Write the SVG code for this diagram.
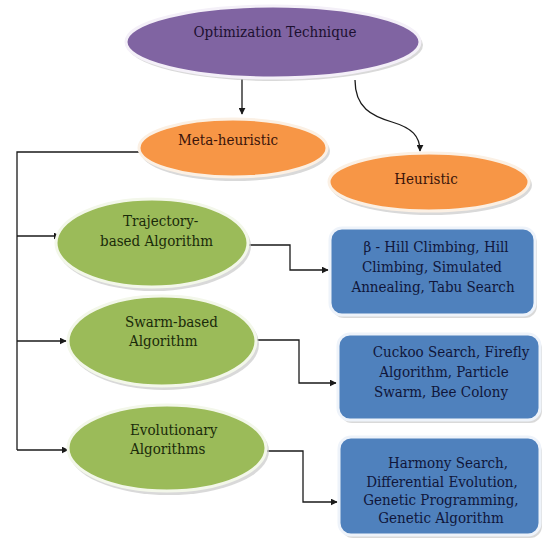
<svg xmlns="http://www.w3.org/2000/svg" width="544" height="539" viewBox="0 0 544 539">
<style>
text{font-family:"DejaVu Serif Condensed","DejaVu Serif","Liberation Serif",serif;font-size:15px}
.sh{fill:#c9c9c9;opacity:0.7}
.pu{fill:#8064A2;stroke:#f4f0f8;stroke-width:3}
.or{fill:#F79646;stroke:#fbf0e4;stroke-width:3}
.gr{fill:#9BBB59;stroke:#f3f7ea;stroke-width:3}
.bl{fill:#4F81BD;stroke:#eef3fa;stroke-width:3}
.c{fill:none;stroke:#1a1a1a;stroke-width:1.3}
</style>
<defs>
<marker id="ah" viewBox="0 0 10 10" refX="9" refY="5" markerWidth="7" markerHeight="7" orient="auto" markerUnits="userSpaceOnUse">
<path d="M0,0 L10,5 L0,10 z" fill="#1a1a1a"/>
</marker>
</defs>
<rect width="544" height="539" fill="#ffffff"/>

<g id="connectors">
<path class="c" d="M242,79 V114" marker-end="url(#ah)"/>
<path class="c" d="M355,80 C355,108 372,116 392,122 C412,128 420,136 420,151" marker-end="url(#ah)"/>
<path class="c" d="M139,152 H17 V450"/>
<path class="c" d="M17,236 H60" marker-end="url(#ah)"/>
<path class="c" d="M17,341 H66" marker-end="url(#ah)"/>
<path class="c" d="M17,450 H68" marker-end="url(#ah)"/>
<path class="c" d="M249,245 H290 V270 H328" marker-end="url(#ah)"/>
<path class="c" d="M256,340 H299 V383 H336" marker-end="url(#ah)"/>
<path class="c" d="M266,451 H303 V502 H337" marker-end="url(#ah)"/>
</g>

<g id="optimization-technique">
<ellipse class="sh" cx="275" cy="45" rx="148" ry="36"/>
<ellipse class="pu" cx="273" cy="42" rx="147" ry="36"/>
<text x="275" y="37" text-anchor="middle" fill="#1c1030">Optimization Technique</text>
</g>

<g id="meta-heuristic">
<ellipse class="sh" cx="235" cy="151" rx="95" ry="30"/>
<ellipse class="or" cx="233" cy="148" rx="94" ry="29"/>
<text x="228" y="145" text-anchor="middle" fill="#3a140a">Meta-heuristic</text>
</g>

<g id="heuristic">
<ellipse class="sh" cx="431" cy="185" rx="101" ry="30"/>
<ellipse class="or" cx="429" cy="182" rx="100" ry="29"/>
<text x="426" y="184" text-anchor="middle" fill="#3a140a">Heuristic</text>
</g>

<g id="trajectory-based">
<ellipse class="sh" cx="154" cy="246" rx="97" ry="45"/>
<ellipse class="gr" cx="152" cy="243" rx="96" ry="44"/>
<text x="123" y="226" fill="#1a2a0a">Trajectory-</text>
<text x="100" y="246" fill="#1a2a0a">based Algorithm</text>
</g>

<g id="swarm-based">
<ellipse class="sh" cx="164" cy="344" rx="95" ry="46"/>
<ellipse class="gr" cx="162" cy="341" rx="94" ry="45"/>
<text x="125" y="327" fill="#1a2a0a">Swarm-based</text>
<text x="129" y="346" fill="#1a2a0a">Algorithm</text>
</g>

<g id="evolutionary">
<ellipse class="sh" cx="169" cy="451" rx="100" ry="44"/>
<ellipse class="gr" cx="167" cy="448" rx="99" ry="43"/>
<text x="130" y="435" fill="#1a2a0a">Evolutionary</text>
<text x="130" y="454" fill="#1a2a0a">Algorithms</text>
</g>

<g id="trajectory-examples">
<rect class="sh" x="332" y="231" width="205" height="87" rx="12"/>
<rect class="bl" x="330" y="228" width="205" height="87" rx="12"/>
<text x="436" y="252" text-anchor="middle" fill="#10163a">β - Hill Climbing, Hill</text>
<text x="432" y="272" text-anchor="middle" fill="#10163a">Climbing, Simulated</text>
<text x="433" y="292" text-anchor="middle" fill="#10163a">Annealing, Tabu Search</text>
</g>

<g id="swarm-examples">
<rect class="sh" x="340" y="337" width="202" height="86" rx="12"/>
<rect class="bl" x="338" y="334" width="202" height="86" rx="12"/>
<text x="451" y="357" text-anchor="middle" fill="#10163a">Cuckoo Search, Firefly</text>
<text x="444" y="377" text-anchor="middle" fill="#10163a">Algorithm, Particle</text>
<text x="441" y="397" text-anchor="middle" fill="#10163a">Swarm, Bee Colony</text>
</g>

<g id="evolutionary-examples">
<rect class="sh" x="341" y="440" width="201" height="98" rx="12"/>
<rect class="bl" x="339" y="437" width="201" height="98" rx="12"/>
<text x="448" y="468" text-anchor="middle" fill="#10163a">Harmony Search,</text>
<text x="442" y="487" text-anchor="middle" fill="#10163a">Differential Evolution,</text>
<text x="441" y="505" text-anchor="middle" fill="#10163a">Genetic Programming,</text>
<text x="441" y="523" text-anchor="middle" fill="#10163a">Genetic Algorithm</text>
</g>
</svg>
